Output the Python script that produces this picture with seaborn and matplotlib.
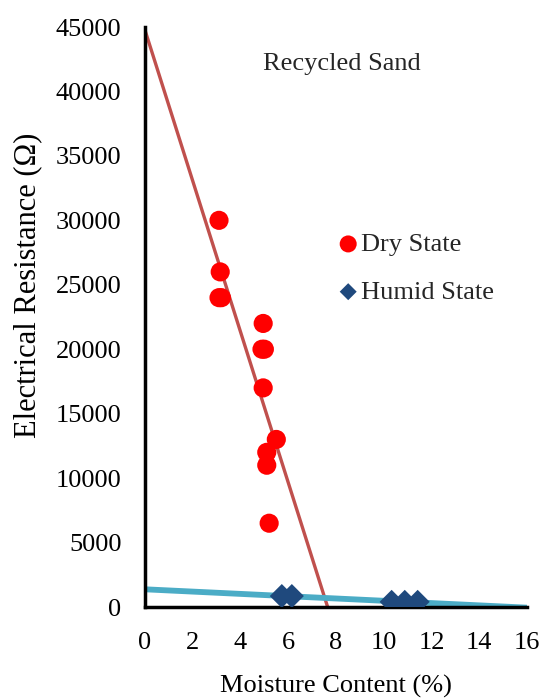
import matplotlib
matplotlib.use("Agg")
import matplotlib.pyplot as plt
import seaborn as sns
import numpy as np
import pandas as pd

# Data
dry_moisture = [3.1, 3.15, 3.1, 3.2, 4.95, 4.9, 5.0, 4.95, 5.5, 5.1, 5.1, 5.2]
dry_resistance = [30000, 26000, 24000, 24000, 22000, 20000, 20000, 17000, 13000, 12000, 11000, 6500]
humid_moisture = [5.73, 6.15, 10.33, 10.88, 11.42]
humid_resistance = [850, 850, 400, 400, 400]
x_ticks = [0, 2, 4, 6, 8, 10, 12, 14, 16]
y_ticks = [0, 5000, 10000, 15000, 20000, 25000, 30000, 35000, 40000, 45000]

dry = pd.DataFrame({"x": dry_moisture, "y": dry_resistance})
humid = pd.DataFrame({"x": humid_moisture, "y": humid_resistance})

sns.set_theme(style="white")
plt.rcParams['font.family'] = ['Liberation Serif', 'DejaVu Serif']
FS = 19

fig = plt.figure(figsize=(5.46, 6.98), dpi=100)
ax = fig.add_axes([145/546, 1 - 607/698, (527-145)/546, (607-27)/698])
ax.set_xlim(0, 16)
ax.set_ylim(0, 45000)

# Trend lines (linear fits extended over the axis)
sns.regplot(data=dry, x="x", y="y", ax=ax, scatter=False, ci=None, truncate=False,
            line_kws=dict(color="#C0504D", lw=2.4, zorder=2))
sns.regplot(data=humid, x="x", y="y", ax=ax, scatter=False, ci=None, truncate=False,
            line_kws=dict(color="#4BACC6", lw=4.2, zorder=2))

sns.scatterplot(data=dry, x="x", y="y", ax=ax, color="#FF0000", marker="o", s=190,
                edgecolor="none", label="Dry State", zorder=3)
sns.scatterplot(data=humid, x="x", y="y", ax=ax, color="#1F497D", marker="D", s=150,
                edgecolor="none", label="Humid State", zorder=3)

ax.set_xlim(0, 16)
ax.set_ylim(0, 45000)
ax.set_xticks(x_ticks)
ax.set_yticks(y_ticks)
ax.set_xticklabels([str(t) for t in x_ticks], fontsize=FS)
ax.set_yticklabels([str(t) for t in y_ticks], fontsize=FS)
ax.tick_params(axis='y', length=0, pad=17, colors='black')
ax.tick_params(axis='x', length=0, pad=18, colors='black')
ax.set_xlabel("Moisture Content (%)", fontsize=FS, color='black', va='center')
ax.set_ylabel("Electrical Resistance (Ω)", fontsize=22, color='black', va='center')
ax.xaxis.set_label_coords(0.5, (607 - 686) / 580)
ax.yaxis.set_label_coords((28 - 145) / 382, (607 - 285) / 580)

for side in ["top", "right"]:
    ax.spines[side].set_visible(False)
for side in ["left", "bottom"]:
    ax.spines[side].set_color("black")
    ax.spines[side].set_linewidth(2.5)
ax.grid(False)

ax.text(8.25, 42150, "Recycled Sand", fontsize=FS, ha="center", va="center")

leg = ax.legend(loc="center left", bbox_to_anchor=((335 - 145) / 382, (607 - 268) / 580),
                frameon=False, fontsize=FS, handletextpad=0.0, labelspacing=0.92,
                borderaxespad=0, borderpad=0, handlelength=1.0)
handles = leg.legend_handles
handles[0].set_sizes([150])
handles[1].set_sizes([75])

fig.savefig("out.png", dpi=100)
